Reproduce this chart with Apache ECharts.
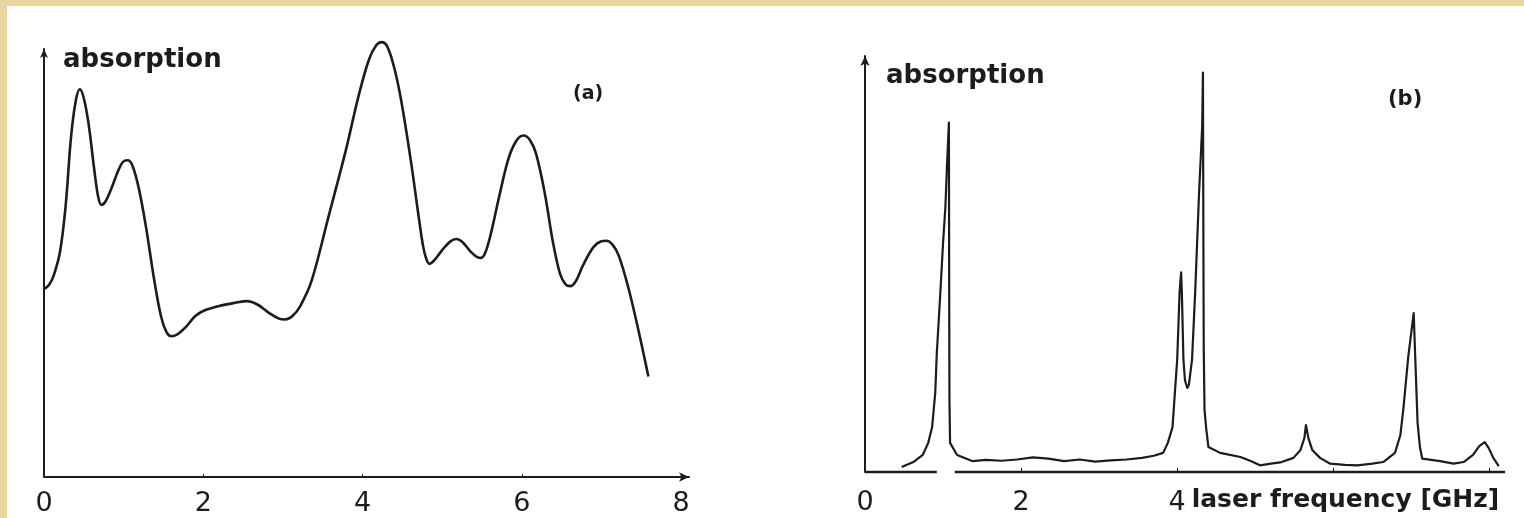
<!DOCTYPE html>
<html>
<head>
    <meta charset="utf-8" />
    <title>absorption spectra</title>
    <script src="https://cdn.jsdelivr.net/npm/echarts@6/dist/echarts.min.js"></script>
    <style>
        * { margin: 0; padding: 0; box-sizing: border-box }
        body { width: 1524px; height: 518px; background: #fff; overflow: hidden; position: relative }
        #chart { position: absolute; left: 0; top: 0; width: 1524px; height: 518px }
        .band { position: absolute; background: #e7d5a2; pointer-events: none }
        .band.top { left: 0; top: 0; width: 1524px; height: 6px }
        .band.left { left: 0; top: 0; width: 7px; height: 518px }
    </style>
</head>
<body>
    <div id="chart"></div>
    <div class="band top"></div>
    <div class="band left"></div>

    <script>
        // (a) broad absorption profile, frequency in GHz, absorption in arbitrary units
        const aFreq = [0, 0.06, 0.12, 0.20, 0.27, 0.34, 0.40, 0.45, 0.50, 0.56, 0.63, 0.68, 0.72, 0.77,
            0.85, 0.93, 0.99, 1.05, 1.11, 1.19, 1.28, 1.38, 1.47, 1.54, 1.60, 1.68, 1.78, 1.90, 2.00,
            2.19, 2.40, 2.55, 2.68, 2.82, 2.95, 3.03, 3.12, 3.22, 3.36, 3.57, 3.79, 3.95, 4.08, 4.17,
            4.24, 4.31, 4.40, 4.49, 4.61, 4.70, 4.76, 4.80, 4.84, 4.90, 5.00, 5.10, 5.18, 5.26, 5.36,
            5.44, 5.49, 5.55, 5.62, 5.71, 5.83, 5.93, 6.02, 6.10, 6.18, 6.29, 6.39, 6.48, 6.55, 6.61,
            6.68, 6.77, 6.90, 7.00, 7.06, 7.14, 7.22, 7.34, 7.46, 7.59];
        const aAbs = [43.9, 44.8, 47.0, 52.5, 63.0, 79.5, 88.0, 90.6, 88.5, 82.5, 72.0, 65.5, 63.6, 64.3,
            67.6, 71.5, 73.6, 74.0, 72.8, 67.5, 58.5, 46.5, 37.5, 33.8, 32.9, 33.4, 35.0, 37.6, 38.8,
            39.9, 40.7, 41.1, 40.3, 38.4, 37.0, 36.8, 37.6, 40.0, 45.8, 60.6, 76.3, 89.0, 97.5, 100.8,
            101.6, 100.6, 95.5, 87.5, 73.5, 61.5, 54.0, 51.0, 49.8, 50.6, 53.0, 55.0, 55.6, 54.8, 52.6,
            51.4, 51.2, 52.8, 57.5, 65.0, 74.2, 78.5, 79.8, 78.8, 75.5, 66.2, 55.0, 47.5, 45.0, 44.6,
            45.8, 49.5, 53.7, 55.1, 55.2, 54.3, 51.6, 44.1, 34.7, 23.5];

        // (b) resolved spectrum
        const bFreq = [0.47, 0.62, 0.74, 0.81, 0.86, 0.90, 0.92, 0.96, 1.00, 1.03, 1.05, 1.075, 1.078,
            1.082, 1.09, 1.18, 1.38, 1.55, 1.75, 1.95, 2.15, 2.35, 2.55, 2.75, 2.95, 3.15, 3.35, 3.55,
            3.70, 3.82, 3.88, 3.94, 3.97, 4.00, 4.03, 4.05, 4.06, 4.08, 4.10, 4.13, 4.15, 4.19, 4.23,
            4.28, 4.32, 4.33, 4.335, 4.34, 4.35, 4.37, 4.40, 4.55, 4.81, 4.95, 5.06, 5.20, 5.32, 5.49,
            5.58, 5.63, 5.65, 5.68, 5.73, 5.83, 5.96, 6.15, 6.31, 6.50, 6.64, 6.79, 6.86, 6.90, 6.96,
            7.03, 7.05, 7.08, 7.11, 7.14, 7.37, 7.54, 7.67, 7.79, 7.87, 7.94, 7.99, 8.05, 8.12];
        const bAbs = [1.2, 2.4, 4.1, 7.0, 10.8, 19.0, 28.6, 41.3, 55.0, 63.7, 73.3, 84.0, 50.0,
            17.0, 7.0, 4.1, 2.6, 2.9, 2.7, 3.0, 3.5, 3.2, 2.6, 3.0, 2.5, 2.8, 3.0, 3.4,
            3.9, 4.6, 7.0, 10.8, 19.0, 27.0, 43.0, 48.0, 43.0, 27.0, 22.0, 20.2, 21.0, 27.0, 43.0,
            67.0, 83.0, 96.0, 60.0, 30.0, 15.0, 10.8, 6.0, 4.6, 3.6, 2.6, 1.6, 2.0, 2.3, 3.4,
            5.3, 8.2, 11.3, 8.2, 5.3, 3.4, 2.0, 1.7, 1.6, 2.0, 2.4, 4.6, 8.9, 15.6, 27.6,
            38.2, 27.6, 11.8, 6.0, 3.2, 2.6, 2.0, 2.4, 4.1, 6.2, 7.2, 5.8, 3.4, 1.4];

        const aTicks = [0, 2, 4, 6, 8];
        const bTicks = [0, 2, 4];
        const bTickMarks = [0, 2, 4, 6, 8];
        const bAxisSegments = [[0, 0.92], [1.15, 8.2]];

        const ink = '#1c1c1c';
        const numFont = { color: ink, fontFamily: 'DejaVu Sans', fontSize: 27 };

        const chart = echarts.init(document.getElementById('chart'));

        const pair = (xs, ys) => xs.map((x, i) => [x, ys[i]]);

        const option = {
            animation: false,
            backgroundColor: 'transparent',
            title: [
                { text: '(a)', left: 573, top: 85, padding: 0,
                  textStyle: { color: ink, fontFamily: 'DejaVu Sans', fontWeight: 'bold', fontSize: 19 } },
                { text: '(b)', left: 1388, top: 89, padding: 0,
                  textStyle: { color: ink, fontFamily: 'DejaVu Sans', fontWeight: 'bold', fontSize: 21 } }
            ],
            grid: [
                { left: 44, top: 49, width: 645, height: 428 },
                { left: 865, top: 56, width: 640, height: 416 }
            ],
            xAxis: [
                {
                    gridIndex: 0, type: 'value', min: 0, max: 8.1,
                    axisLine: { show: true, lineStyle: { color: ink, width: 2 }, symbol: ['none', 'arrow'], symbolSize: [7, 10] },
                    axisTick: { show: true, inside: true, length: 3, customValues: aTicks, lineStyle: { color: ink } },
                    axisLabel: { customValues: aTicks, margin: 13, ...numFont },
                    splitLine: { show: false }
                },
                {
                    gridIndex: 1, type: 'value', min: 0, max: 8.2,
                    axisLine: { show: false },
                    axisTick: { show: true, inside: true, length: 4, customValues: bTickMarks, lineStyle: { color: ink } },
                    axisLabel: { customValues: bTicks, margin: 17, ...numFont },
                    splitLine: { show: false },
                    name: 'laser frequency [GHz]',
                    nameLocation: 'end',
                    nameGap: -12,
                    nameTextStyle: {
                        color: ink, fontFamily: 'DejaVu Sans', fontWeight: 'bold', fontSize: 25,
                        align: 'right', verticalAlign: 'top', padding: [16, 0, 0, 0]
                    }
                }
            ],
            yAxis: [
                {
                    gridIndex: 0, type: 'value', min: 0, max: 100,
                    axisLine: { show: true, lineStyle: { color: ink, width: 2 }, symbol: ['none', 'arrow'], symbolSize: [6, 9] },
                    axisTick: { show: false }, axisLabel: { show: false }, splitLine: { show: false },
                    name: 'absorption', nameLocation: 'end', nameGap: -11,
                    nameTextStyle: {
                        color: ink, fontFamily: 'DejaVu Sans', fontWeight: 'bold', fontSize: 26,
                        align: 'left', verticalAlign: 'middle', padding: [0, 0, 0, 19]
                    }
                },
                {
                    gridIndex: 1, type: 'value', min: 0, max: 100,
                    axisLine: { show: true, lineStyle: { color: ink, width: 2 }, symbol: ['none', 'arrow'], symbolSize: [7, 10] },
                    axisTick: { show: false }, axisLabel: { show: false }, splitLine: { show: false },
                    name: 'absorption', nameLocation: 'end', nameGap: -20,
                    nameTextStyle: {
                        color: ink, fontFamily: 'DejaVu Sans', fontWeight: 'bold', fontSize: 26,
                        align: 'left', verticalAlign: 'middle', padding: [0, 0, 0, 21]
                    }
                }
            ],
            series: [
                {
                    type: 'line', xAxisIndex: 0, yAxisIndex: 0,
                    data: pair(aFreq, aAbs),
                    smooth: 0.35, showSymbol: false, clip: false,
                    lineStyle: { color: ink, width: 2.6, join: 'round' }
                },
                {
                    type: 'line', xAxisIndex: 1, yAxisIndex: 1,
                    data: pair(bFreq, bAbs),
                    smooth: false, showSymbol: false, clip: false,
                    lineStyle: { color: ink, width: 2.2, join: 'round' },
                    markLine: {
                        silent: true, symbol: 'none', label: { show: false },
                        lineStyle: { color: ink, width: 2.4, type: 'solid' },
                        data: bAxisSegments.map(s => [{ coord: [s[0], 0] }, { coord: [s[1], 0] }])
                    }
                }
            ]
        };

        chart.setOption(option);
    </script>
</body>
</html>
